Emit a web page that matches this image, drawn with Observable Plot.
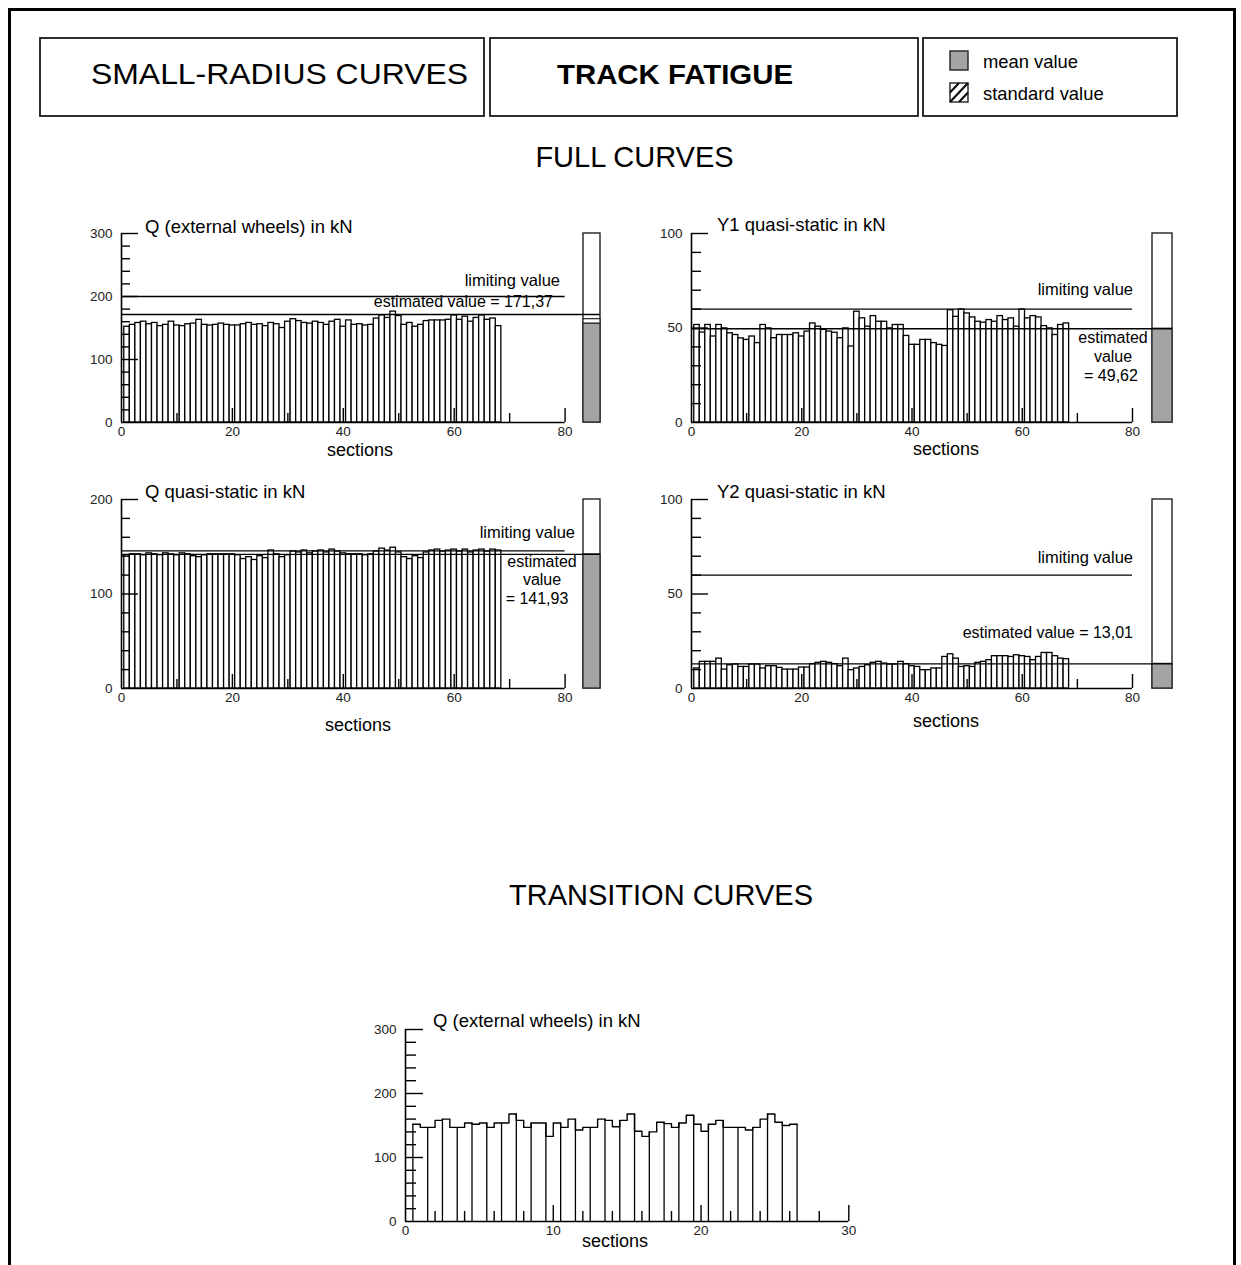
<!DOCTYPE html>
<html><head><meta charset="utf-8">
<script src="https://cdn.jsdelivr.net/npm/d3@7"></script>
<script src="https://cdn.jsdelivr.net/npm/@observablehq/plot@0.6"></script>
<style>
html,body{margin:0;padding:0;background:#fff;}
body{width:1241px;height:1265px;overflow:hidden;position:relative;font-family:"Liberation Sans",Arial,sans-serif;}
#frame{position:absolute;left:8px;top:8px;width:1222px;height:1400px;border:3px solid #000;}
.pl{position:absolute;}
#overlay{position:absolute;left:0;top:0;pointer-events:none;}
</style></head><body>
<div id="frame"></div>
<div id="root"></div>
<svg id="overlay" width="1241" height="1265"></svg>
<script>
// ---------------- data ----------------
const qExternalFull = [152,155,158,160,156,158,153,155,160,154,153,156,157,163,155,154,155,157,155,154,154,156,158,155,156,153,158,156,150,160,164,161,158,157,160,158,155,160,163,152,162,155,156,154,155,165,170,166,176,169,155,158,152,155,161,162,162,162,163,170,163,168,160,166,170,163,165,153];
const y1Full = [51.6,47.6,51.6,45.5,51.6,49.8,47.2,46.3,44.5,43.7,45.5,42.0,51.6,49.8,44.6,46.3,46.3,46.3,47.2,45.5,48.1,52.4,50.7,49.0,48.1,47.5,44.6,49.8,40.2,58.6,55.1,50.7,56.3,53.3,53.3,49.8,51.6,51.6,45.8,41.1,41.1,43.7,43.7,42.0,41.1,40.5,59.4,55.9,59.8,57.7,55.6,53.3,52.8,54.2,53.3,56.3,54.2,55.1,50.7,59.8,55.1,56.3,55.6,51.0,49.8,46.3,51.6,52.4];
const qQuasiFull = [141,142,142,141,143,142,141,143,142,141,143,142,140,139,141,142,142,142,142,142,141,137,139,136,140,138,146,142,139,141,145,144,146,143,145,146,144,147,145,143,142,142,142,141,142,145,148,146,149,144,139,137,140,138,144,146,147,145,146,147,145,147,144,146,147,145,147,146];
const y2Full = [10.6,14.1,14.1,14.1,15.8,10.0,12.3,12.7,11.4,11.4,12.7,12.7,10.6,11.8,11.8,10.9,10.0,10.0,10.0,11.1,11.1,12.9,13.6,14.1,13.6,12.9,11.8,15.8,9.7,10.6,11.4,12.3,13.6,14.1,13.2,12.7,12.7,14.1,12.9,11.8,11.4,9.7,9.7,10.6,10.6,16.7,18.1,15.8,11.4,11.8,11.4,13.6,14.1,15.0,17.1,17.1,17.1,16.7,17.6,17.1,16.7,15.0,16.7,18.8,18.8,17.1,15.8,15.5];
// transition curves: two half-section values per section (sections 1..26)
const qExternalTrans = [152,147,147,158,160,147,147,154,152,154,147,154,154,168,158,147,154,154,133,154,147,160,143,147,147,160,158,148,158,168,141,133,140,155,153,147,154,166,152,141,152,158,147,147,147,143,147,160,168,155,150,152];

const limitValues = [200, 60, 145.6, 60];
const estimatedValues = [171.37, 49.62, 141.93, 13.01];
const meanValues = [157, 49.62, 141.93, 13.01];
const standardTop = [164, null, null, null];

const chartTitles = ["Q (external wheels) in kN", "Y1 quasi-static in kN", "Q quasi-static in kN", "Y2 quasi-static in kN", "Q (external wheels) in kN"];
const yMaxes = [300, 100, 200, 100, 300];
const xMaxes = [80, 80, 80, 80, 30];
const yLabelTicks = [[0,100,200,300],[0,50,100],[0,100,200],[0,50,100],[0,100,200,300]];
const yMinorTicks = [[20,40,60,80,120,140,160,180,220,240,260,280],[10,20,30,40,60,70,80,90],[20,40,60,80,120,140,160,180],[10,20,30,40,60,70,80,90],[20,40,60,80,120,140,160,180,220,240,260,280]];
const yMajorTicks = [[100,200,300],[50,100],[100,200],[50,100],[100,200,300]];
const xLabelTicks = [[0,20,40,60,80],[0,20,40,60,80],[0,20,40,60,80],[0,20,40,60,80],[0,10,20,30]];
const xMinorTicks = [[10,30,50,70],[10,30,50,70],[10,30,50,70],[10,30,50,70],[2,4,6,8,12,14,16,18,22,24,26,28]];
const xMajorTicks = [[20,40,60,80],[20,40,60,80],[20,40,60,80],[20,40,60,80],[10,20,30]];

// ---------------- layout ----------------
const layouts = [
  {left:60,  top:215, width:540, height:230, ml:61, mt:18, mb:23, xw:443.6, side:{left:583, width:17}},
  {left:630, top:215, width:542, height:230, ml:61, mt:18, mb:23, xw:441,   side:{left:1152, width:20}},
  {left:60,  top:480, width:540, height:230, ml:61, mt:19, mb:22, xw:443.6, side:{left:583, width:17}},
  {left:630, top:480, width:542, height:230, ml:61, mt:19, mb:22, xw:441,   side:{left:1152, width:20}},
  {left:345, top:1010, width:520, height:235, ml:60, mt:19, mb:24, xw:443.3}
];
const tickLen = [
  {yMinor:9, yMajor:17, xMinor:9, xMajor:14},
  {yMinor:10, yMajor:17, xMinor:9, xMajor:14},
  {yMinor:9, yMajor:17, xMinor:9, xMajor:14},
  {yMinor:10, yMajor:17, xMinor:9, xMajor:14},
  {yMinor:11, yMajor:18, xMinor:10, xMajor:16}
];
const GRAY = "#a4a4a4";
const FONT = "Liberation Sans, Arial, sans-serif";
const root = document.getElementById("root");

function place(el, left, top, width) {
  const d = document.createElement("div");
  d.className = "pl";
  d.style.left = left + "px"; d.style.top = top + "px"; d.style.width = width + "px";
  d.appendChild(el);
  root.appendChild(d);
}

function axisMarks(k) {
  const t = tickLen[k];
  const sw = 1.4;
  return [
    Plot.ruleY(yMinorTicks[k], {x1: 0, x2: 0, insetRight: -t.yMinor, stroke: "black", strokeWidth: sw}),
    Plot.ruleY(yMajorTicks[k], {x1: 0, x2: 0, insetRight: -t.yMajor, stroke: "black", strokeWidth: sw}),
    Plot.ruleX(xMinorTicks[k], {y1: 0, y2: 0, insetTop: -t.xMinor, stroke: "black", strokeWidth: sw}),
    Plot.ruleX(xMajorTicks[k], {y1: 0, y2: 0, insetTop: -t.xMajor, stroke: "black", strokeWidth: sw}),
    Plot.ruleX([0], {y1: 0, y2: yMaxes[k], stroke: "black", strokeWidth: 1.6}),
    Plot.ruleY([0], {x1: 0, x2: xMaxes[k], stroke: "black", strokeWidth: 1.6}),
    Plot.axisY(yLabelTicks[k], {tickSize: 0, tickPadding: 9, label: null, fill: "#222", fontSize: 13.5, fontFamily: FONT}),
    Plot.axisX(xLabelTicks[k], {tickSize: 0, tickPadding: 4, label: null, fill: "#222", fontSize: 13.5, fontFamily: FONT})
  ];
}

function plotFrame(k, marks) {
  const L = layouts[k];
  return Plot.plot({
    width: L.width, height: L.height,
    marginLeft: L.ml, marginRight: 0, marginTop: L.mt, marginBottom: L.mb,
    x: {domain: [0, xMaxes[k]], range: [L.ml, L.ml + L.xw]},
    y: {domain: [0, yMaxes[k]]},
    style: {background: "transparent", overflow: "visible", fontFamily: FONT, fontSize: "13.5px", color: "#111"},
    marks
  });
}

function sidePlot(k) {
  const L = layouts[k];
  const key = "mean";
  const marks = [
    Plot.barY([yMaxes[k]], {x: () => key, y: d => d, fill: "white", stroke: "#222", strokeWidth: 1.4}),
    Plot.barY([meanValues[k]], {x: () => key, y: d => d, fill: GRAY, stroke: "#222", strokeWidth: 1.2})
  ];
  if (standardTop[k] != null) {
    marks.push(Plot.barY([{a: meanValues[k], b: standardTop[k]}], {x: () => key, y1: "a", y2: "b", fill: "white", stroke: "#222", strokeWidth: 1.2}));
  }
  return Plot.plot({
    width: L.side.width, height: L.height,
    marginLeft: 0, marginRight: 0, marginTop: L.mt, marginBottom: L.mb,
    x: {type: "band", domain: [key], padding: 0, axis: null},
    y: {domain: [0, yMaxes[k]], axis: null},
    style: {background: "transparent", overflow: "visible"},
    marks
  });
}

const fullSeries = [qExternalFull, y1Full, qQuasiFull, y2Full];
fullSeries.forEach((values, k) => {
  const L = layouts[k];
  const data = values.map((v, i) => ({s: i + 1, v}));
  place(sidePlot(k), L.side.left, L.top, L.side.width);
  const marks = [
    Plot.rectY(data, {x1: d => d.s - 0.5, x2: d => d.s + 0.5, y: "v", fill: "white", stroke: "black", strokeWidth: 1.3, inset: 0}),
    Plot.ruleY([limitValues[k]], {x1: 0, x2: xMaxes[k], stroke: "black", strokeWidth: 1.4}),
    Plot.ruleY([estimatedValues[k]], {stroke: "black", strokeWidth: 1.4}),
    ...axisMarks(k)
  ];
  place(plotFrame(k, marks), L.left, L.top, L.width);
});

// transition curve chart
{
  const k = 4, L = layouts[k];
  const steps = qExternalTrans.map((v, j) => ({x: 0.5 + j * 0.5, v}));
  steps.push({x: 0.5 + qExternalTrans.length * 0.5, v: qExternalTrans[qExternalTrans.length - 1]});
  const nSec = qExternalTrans.length / 2;
  const bounds = [];
  for (let i = 0; i <= nSec; i++) {
    const prev = qExternalTrans[2 * i - 1], next = qExternalTrans[2 * i];
    bounds.push({b: i + 0.5, h: Math.max(prev ?? 0, next ?? 0)});
  }
  const marks = [
    Plot.ruleX(bounds, {x: "b", y1: 0, y2: "h", stroke: "black", strokeWidth: 1.3}),
    Plot.line(steps, {x: "x", y: "v", curve: "step-after", stroke: "black", strokeWidth: 1.4}),
    ...axisMarks(k)
  ];
  place(plotFrame(k, marks), L.left, L.top, L.width);
}

// ---------------- overlay: header, titles, annotations ----------------
const ov = d3.select("#overlay");
const headerBoxes = [{x:40,y:38,w:444,h:78},{x:490,y:38,w:428,h:78},{x:923,y:38,w:254,h:78}];
ov.selectAll("rect.hb").data(headerBoxes).join("rect").attr("class","hb")
  .attr("x", d => d.x).attr("y", d => d.y).attr("width", d => d.w).attr("height", d => d.h)
  .attr("fill","none").attr("stroke","#1a1a1a").attr("stroke-width",1.8);

// legend swatches
ov.append("rect").attr("x",950).attr("y",51).attr("width",18).attr("height",19).attr("fill",GRAY).attr("stroke","#222").attr("stroke-width",1.4);
const hs = ov.append("g").attr("transform","translate(950,83)");
hs.append("rect").attr("width",18).attr("height",19).attr("fill","white").attr("stroke","#222").attr("stroke-width",1.4);
hs.append("path").attr("d","M0,19L18,0M0,9.5L9,0M9,19L18,9.5").attr("stroke","#111").attr("stroke-width",2.2).attr("fill","none");

const fmt = v => v.toFixed(2).replace(".", ",");
const texts = [
  {t:"SMALL-RADIUS CURVES", x:91, y:84, size:30, len:377},
  {t:"TRACK FATIGUE", x:557, y:84, size:28, weight:"bold", len:236},
  {t:"mean value", x:983, y:68, size:18.4},
  {t:"standard value", x:983, y:100, size:18.4},
  {t:"FULL CURVES", x:634.5, y:167, size:29, anchor:"middle"},
  {t:"TRANSITION CURVES", x:661, y:905, size:29, anchor:"middle"},
  {t:chartTitles[0], x:145, y:233, size:18.5},
  {t:chartTitles[1], x:717, y:231, size:18.5},
  {t:chartTitles[2], x:145, y:498, size:18.5},
  {t:chartTitles[3], x:717, y:498, size:18.5},
  {t:chartTitles[4], x:433, y:1027, size:18.5},
  {t:"sections", x:360, y:456, size:18, anchor:"middle"},
  {t:"sections", x:946, y:455, size:18, anchor:"middle"},
  {t:"sections", x:358, y:731, size:18, anchor:"middle"},
  {t:"sections", x:946, y:727, size:18, anchor:"middle"},
  {t:"sections", x:615, y:1247, size:18, anchor:"middle"},
  {t:"limiting value", x:560, y:286, size:16.5, anchor:"end"},
  {t:"estimated value = " + fmt(estimatedValues[0]), x:553, y:307, size:16, anchor:"end"},
  {t:"limiting value", x:1133, y:295, size:16.5, anchor:"end"},
  {t:"estimated", x:1113, y:343, size:16, anchor:"middle"},
  {t:"value", x:1113, y:362, size:16, anchor:"middle"},
  {t:"= " + fmt(estimatedValues[1]), x:1111, y:381, size:16, anchor:"middle"},
  {t:"limiting value", x:575, y:538, size:16.5, anchor:"end"},
  {t:"estimated", x:542, y:567, size:16, anchor:"middle"},
  {t:"value", x:542, y:585, size:16, anchor:"middle"},
  {t:"= " + fmt(estimatedValues[2]), x:537, y:604, size:16, anchor:"middle"},
  {t:"limiting value", x:1133, y:563, size:16.5, anchor:"end"},
  {t:"estimated value = " + fmt(estimatedValues[3]), x:1133, y:638, size:16, anchor:"end"}
];
ov.selectAll("text.tx").data(texts).join("text").attr("class","tx")
  .attr("x", d => d.x).attr("y", d => d.y)
  .attr("font-family", FONT).attr("font-size", d => d.size)
  .attr("font-weight", d => d.weight || "normal")
  .attr("text-anchor", d => d.anchor || "start")
  .attr("fill", "#000")
  .each(function(d) { if (d.len) d3.select(this).attr("textLength", d.len).attr("lengthAdjust", "spacingAndGlyphs"); })
  .text(d => d.t);
</script>
</body></html>
